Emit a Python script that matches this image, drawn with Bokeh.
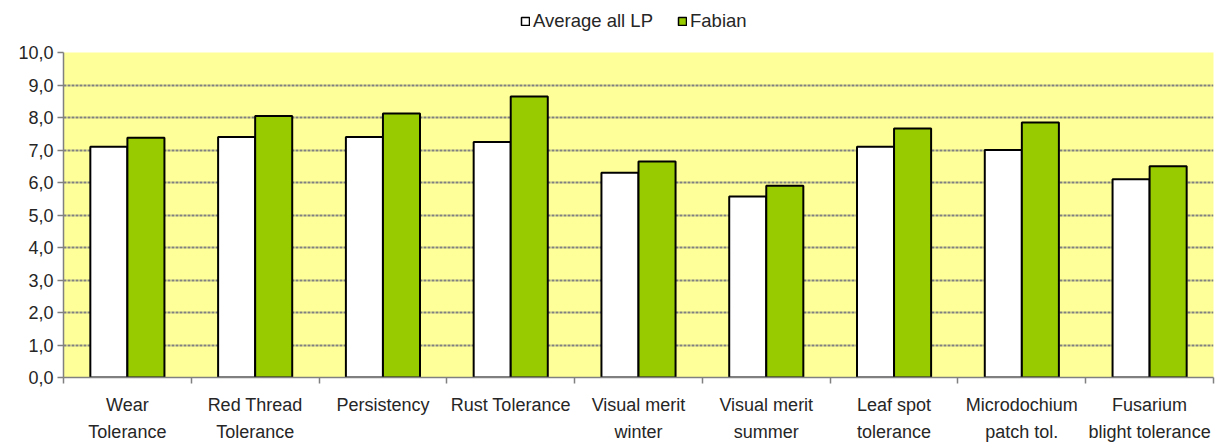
from bokeh.plotting import figure
from bokeh.layouts import column
from bokeh.models import ColumnDataSource, FixedTicker, Legend, LegendItem, Range1d, LinearAxis
from bokeh.transform import dodge
from bokeh.embed import file_html
from bokeh.resources import INLINE

categories_line1 = ["Wear", "Red Thread", "Persistency", "Rust Tolerance", "Visual merit",
                    "Visual merit", "Leaf spot", "Microdochium", "Fusarium"]
categories_line2 = ["Tolerance", "Tolerance", "", "", "winter", "summer", "tolerance",
                    "patch tol.", "blight tolerance"]
series_names = ["Average all LP", "Fabian"]
average_all_lp = [7.1, 7.4, 7.4, 7.25, 6.3, 5.57, 7.1, 7.0, 6.1]
fabian = [7.38, 8.05, 8.12, 8.65, 6.65, 5.9, 7.66, 7.85, 6.5]
y_ticks = [0, 1, 2, 3, 4, 5, 6, 7, 8, 9, 10]

FONT = "Liberation Sans"
TEXT = "#262626"
COLORS = ["white", "#99CC00"]

n = len(categories_line1)
centers = [i + 0.5 for i in range(n)]
src = ColumnDataSource(dict(x=centers, avg=average_all_lp, fab=fabian))

LEG_H = 40
p = figure(width=1218, height=444 - LEG_H, output_backend="svg", toolbar_location=None,
           x_range=Range1d(0, n), y_range=Range1d(0, 10),
           min_border_left=63, min_border_right=5, min_border_bottom=10,
           min_border_top=52 - LEG_H)
p.background_fill_color = "#FFFF99"
p.outline_line_color = None

w = 0.29
p.vbar(x=dodge("x", -w / 2), top="avg", width=w, source=src,
       fill_color=COLORS[0], line_color="black", line_width=2)
p.vbar(x=dodge("x", w / 2), top="fab", width=w, source=src,
       fill_color=COLORS[1], line_color="black", line_width=2)

# x axis: first label line at centers, tick marks at category boundaries
xa = p.xaxis[0]
xa.ticker = FixedTicker(ticks=centers, minor_ticks=list(range(n + 1)))
xa.major_label_overrides = {c: lab for c, lab in zip(centers, categories_line1)}
xa.major_tick_out = 0
xa.major_tick_in = 0
xa.minor_tick_out = 6
xa.minor_tick_in = 0
xa.minor_tick_line_color = "#808080"
xa.minor_tick_line_width = 1.5
xa.axis_line_color = "#808080"
xa.axis_line_width = 1.5
xa.major_label_text_font = FONT
xa.major_label_text_font_size = "18px"
xa.major_label_text_color = TEXT
xa.major_label_standoff = 11

# second label line
xa2 = LinearAxis(ticker=FixedTicker(ticks=centers, minor_ticks=[]),
                 major_label_overrides={c: lab for c, lab in zip(centers, categories_line2)},
                 axis_line_color=None, major_tick_line_color=None, minor_tick_line_color=None,
                 major_tick_out=0, major_tick_in=0,
                 major_label_text_font=FONT, major_label_text_font_size="18px",
                 major_label_text_color=TEXT, major_label_standoff=4)
p.add_layout(xa2, "below")
p.xgrid.grid_line_color = None

p.yaxis.ticker = FixedTicker(ticks=y_ticks)
p.yaxis.major_label_overrides = {t: f"{t},0" for t in y_ticks}
p.yaxis.major_tick_out = 6
p.yaxis.major_tick_in = 0
p.yaxis.minor_tick_line_color = None
p.yaxis.major_tick_line_color = "#808080"
p.yaxis.major_tick_line_width = 1.5
p.yaxis.axis_line_color = "#808080"
p.yaxis.axis_line_width = 1.5
p.yaxis.major_label_text_font = FONT
p.yaxis.major_label_text_font_size = "18px"
p.yaxis.major_label_text_color = TEXT
p.yaxis.major_label_standoff = 4
p.ygrid.grid_line_color = "#808080"
p.ygrid.grid_line_width = 2
p.ygrid.grid_line_dash = "3 1"

# legend strip above the chart (swatch renderers are hidden; legend still draws them)
lg = figure(width=1218, height=LEG_H, output_backend="svg", toolbar_location=None,
            x_range=Range1d(0, 1), y_range=Range1d(0, 1),
            x_axis_location=None, y_axis_location=None,
            min_border_left=0, min_border_right=0, min_border_top=0, min_border_bottom=0)
lg.outline_line_color = None
lg.grid.grid_line_color = None
items = []
for name, col in zip(series_names, COLORS):
    r = lg.vbar(x=[0.5], top=[1], width=0.1, fill_color=col, line_color="black",
                line_width=1.5, visible=False)
    items.append(LegendItem(label=name, renderers=[r]))
legend = Legend(items=items, orientation="horizontal", location=(457, 8),
                glyph_width=10, glyph_height=10, label_standoff=3, spacing=24,
                padding=0, margin=0, border_line_color=None, background_fill_alpha=0,
                label_text_font=FONT, label_text_font_size="18.5px", label_text_color=TEXT)
lg.add_layout(legend, "center")

layout = column(lg, p, spacing=0)
open("out.html", "w").write(file_html(layout, INLINE))
